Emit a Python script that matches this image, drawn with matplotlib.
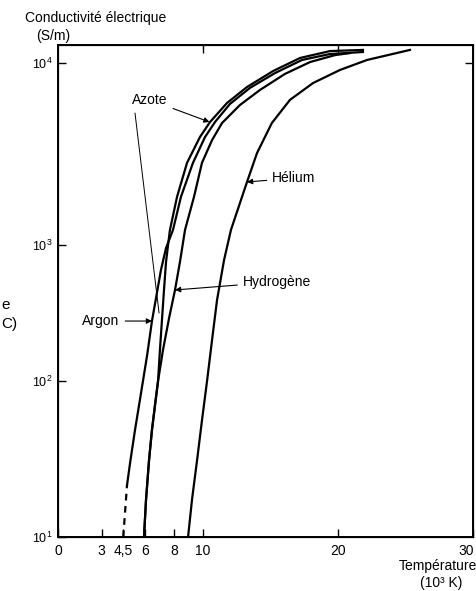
import numpy as np
import matplotlib
matplotlib.use("Agg")
import matplotlib.pyplot as plt
from matplotlib.transforms import ScaledTranslation

plt.rcParams["font.family"] = ["Liberation Sans", "DejaVu Sans"]
plt.rcParams["mathtext.fontset"] = "custom"
plt.rcParams["mathtext.rm"] = "Liberation Sans"

# temperature in 10^3 K, conductivity in S/m
argon_dash_T = [4.5, 4.76]
argon_dash_s = [10, 21.5]
argon_T = [4.76, 4.97, 5.31, 5.59, 5.86, 6.14, 6.48, 6.76, 7.1, 7.45, 7.93, 8.48,
           9.31, 10.15, 10.89, 12.0, 13.48, 15.33, 17.33, 19.41, 21.85]
argon_s = [21.5, 29.8, 48.5, 70, 100, 153, 276, 407, 655, 950, 1210, 1840,
           2830, 3920, 4740, 5960, 7300, 8800, 10450, 11400, 11740]

azote_T = [5.93, 6.07, 6.28, 6.48, 6.69, 6.9, 7.03, 7.17, 7.31, 7.45, 7.59, 7.72,
           8.21, 8.9, 9.79, 10.52, 11.78, 13.26, 15.19, 17.19, 19.41, 21.85]
azote_s = [10, 17.3, 31.2, 48.5, 70, 100, 169, 281, 467, 750, 1000, 1210,
           1840, 2830, 3920, 4740, 6030, 7380, 9030, 10760, 11900, 12100]

hydro_T = [5.93, 6.07, 6.28, 6.48, 6.69, 6.9, 7.24, 7.66, 8.07, 8.41, 8.76,
           9.38, 9.93, 10.67, 11.41, 12.74, 14.22, 16.07, 17.93, 19.78, 20.89]
hydro_s = [10, 17.3, 31.2, 48.5, 70, 100, 169, 290, 467, 750, 1210,
           1840, 2830, 3770, 4680, 5880, 7110, 8710, 10140, 11220, 11560]

helium_T = [8.97, 9.24, 9.59, 9.93, 10.3, 10.67, 11.04, 11.56, 12.07, 13.26, 14.0,
            15.1, 16.44, 18.15, 20.15, 22.15, 25.33]
helium_s = [10, 17.3, 31, 56, 100, 200, 394, 776, 1210, 2220, 3200,
            4680, 6270, 7760, 9160, 10450, 12100]

x_ticks = [0, 3, 4.5, 6, 8, 10, 20, 30]
x_labels = ["0", "3", "4,5", "6", "8", "10", "20", "30"]
y_ticks = [10, 100, 1000, 10000]
y_labels = [r"$\mathregular{10^1}$", r"$\mathregular{10^2}$",
            r"$\mathregular{10^3}$", r"$\mathregular{10^4}$"]
top_ticks = [10, 20]
right_ticks = [10000]

# the printed axes are not quite regular, follow the drawn scale
xk, xp = [0, 10, 20, 30], [0, 145, 280, 415]
yk, yp = [1, 2, 3, 4, 5], [0, 156, 292, 474, 632]


def fx(x):
    return np.interp(x, xk, xp)


def ix(p):
    return np.interp(p, xp, xk)


def fy(y):
    return np.interp(np.log10(np.clip(y, 1e-3, None)), yk, yp)


def iy(p):
    return 10 ** np.interp(p, yp, yk)


fig = plt.figure(figsize=(4.77, 5.91), dpi=100)
ax = fig.add_axes([58 / 477, 1 - 537 / 591, (473 - 58) / 477, (537 - 45) / 591])
ax.set_xscale("function", functions=(fx, ix))
ax.set_yscale("function", functions=(fy, iy))
ax.set_xlim(0, 30)
ax.set_ylim(10, 13000)

lw = 1.6
ax.plot(argon_dash_T, argon_dash_s, color="black", lw=lw, ls=(0, (3, 2.5)))
ax.plot(argon_T, argon_s, color="black", lw=lw, solid_joinstyle="round")
ax.plot(azote_T, azote_s, color="black", lw=lw, solid_joinstyle="round")
ax.plot(hydro_T, hydro_s, color="black", lw=lw, solid_joinstyle="round")
ax.plot(helium_T, helium_s, color="black", lw=lw, solid_joinstyle="round")

ax.set_xticks(x_ticks)
ax.set_xticklabels(x_labels)
ax.set_yticks(y_ticks)
ax.set_yticklabels(y_labels)
ax.minorticks_off()
ax.tick_params(axis="x", direction="in", length=6, width=1, labelsize=10, pad=5)
ax.tick_params(axis="y", direction="in", length=6, width=1, labelsize=9, pad=4)
last = ax.get_xticklabels()[-1]
last.set_transform(last.get_transform() + ScaledTranslation(-5 / 72, 0, fig.dpi_scale_trans))
for spine in ax.spines.values():
    spine.set_linewidth(1.4)

# a few ticks on the top and right frame
top = ax.twiny()
top.set_xscale("function", functions=(fx, ix))
top.set_xlim(ax.get_xlim())
top.set_xticks(top_ticks)
top.minorticks_off()
top.tick_params(direction="in", length=6, width=1, labeltop=False)
right = ax.twinx()
right.set_yscale("function", functions=(fy, iy))
right.set_ylim(ax.get_ylim())
right.set_yticks(right_ticks)
right.minorticks_off()
right.tick_params(direction="in", length=6, width=1, labelright=False)

arrow = dict(arrowstyle="-|>", color="black", lw=0.8, mutation_scale=8, shrinkA=2, shrinkB=0)
ax.annotate("Azote", xy=(10.48, 4740), xytext=(6.34, 6270), fontsize=10,
            ha="center", va="center", arrowprops=arrow)
ax.annotate("", xy=(6.97, 316), xytext=(5.31, 5310),
            arrowprops=dict(arrowstyle="-", color="black", lw=0.7, shrinkA=0, shrinkB=0))
ax.annotate("Argon", xy=(6.48, 276), xytext=(2.97, 276), fontsize=10,
            ha="center", va="center", arrowprops=arrow)
ax.annotate("Hydrog\u00e8ne", xy=(8.07, 467), xytext=(15.48, 535), fontsize=10,
            ha="center", va="center", arrowprops=arrow)
ax.annotate("H\u00e9lium", xy=(13.26, 2220), xytext=(16.74, 2330), fontsize=10,
            ha="center", va="center", arrowprops=arrow)

fig.text(25 / 477, 1 - 18 / 591, "Conductivit\u00e9 \u00e9lectrique", fontsize=10, va="center")
fig.text(36 / 477, 1 - 36 / 591, "(S/m)", fontsize=10, va="center")
fig.text(1.0, 1 - 573 / 591, "Temp\u00e9rature", fontsize=10, ha="right", va="bottom")
fig.text(441 / 477, 1 - 590 / 591, "(10\u00b3 K)", fontsize=10, ha="center", va="bottom")
fig.text(0.002, 1 - 305 / 591, "e", fontsize=11, va="center")
fig.text(0.002, 1 - 324 / 591, "C)", fontsize=11, va="center")

fig.savefig("out.png", dpi=100)
